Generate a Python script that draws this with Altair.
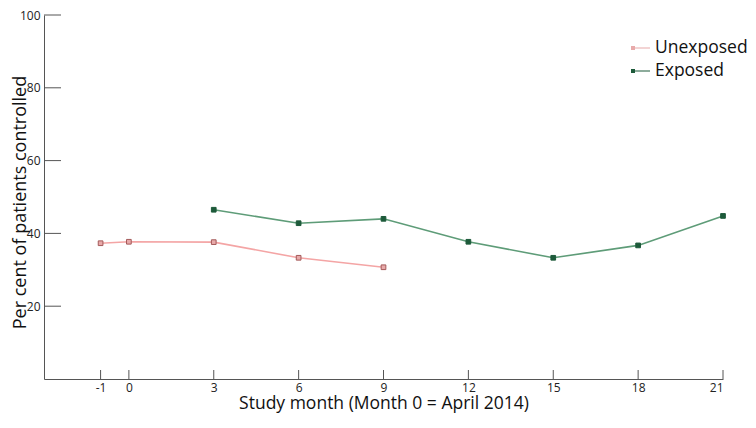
import altair as alt
import pandas as pd

unexposed_months = [-1, 0, 3, 6, 9]
unexposed_values = [37.3, 37.7, 37.6, 33.3, 30.7]
exposed_months = [3, 6, 9, 12, 15, 18, 21]
exposed_values = [46.5, 42.8, 44.0, 37.7, 33.3, 36.7, 44.8]
groups = ["Unexposed", "Exposed"]
x_ticks = [-1, 0, 3, 6, 9, 12, 15, 18, 21]
y_ticks = [20, 40, 60, 80, 100]

rows = []
for m, v in zip(unexposed_months, unexposed_values):
    rows.append({"month": m, "value": v, "group": "Unexposed"})
for m, v in zip(exposed_months, exposed_values):
    rows.append({"month": m, "value": v, "group": "Exposed"})
df = pd.DataFrame(rows)

W, H = 679, 364
FONT = "Open Sans"

xscale = alt.Scale(domain=[-3, 21], nice=False, zero=False)
yscale = alt.Scale(domain=[0, 100], nice=False)

x_axis = alt.Axis(values=x_ticks, ticks=False, grid=False, domainColor="#555",
                  labelFontSize=12, labelColor="#222", labelPadding=3, labelFont=FONT,
                  labelExpr="'' + datum.value",
                  title="Study month (Month 0 = April 2014)", titleFontSize=17.5,
                  titleFontWeight="normal", titleColor="#111", titlePadding=1, titleFont=FONT)
y_axis = alt.Axis(values=y_ticks, ticks=False, grid=False, domainColor="#555",
                  labelFontSize=12, labelColor="#222", labelPadding=4, labelFont=FONT,
                  title="Per cent of patients controlled", titleFontSize=18,
                  titleFontWeight="normal", titleColor="#111", titleFont=FONT,
                  titleX=-15, titleY=187)

line_colors = ["#f4a5a5", "#5e9c78"]
fill_colors = ["#e8aaaa", "#1d5a3a"]
stroke_colors = ["#a45a5a", "#1d5a3a"]

lines = alt.Chart(df).mark_line(strokeWidth=1.6).encode(
    x=alt.X("month:Q", scale=xscale, axis=x_axis),
    y=alt.Y("value:Q", scale=yscale, axis=y_axis),
    color=alt.Color("group:N", scale=alt.Scale(domain=groups, range=line_colors), legend=None),
    detail="group:N",
)

legend_symbol = "M-1,-0.2H-0.6V0.2H-1Z M-0.6,-0.05H0.9V0.05H-0.6Z"

points = alt.Chart(df).mark_point(shape="square", filled=True, size=22, strokeWidth=1, opacity=1).encode(
    x=alt.X("month:Q", scale=xscale),
    y=alt.Y("value:Q", scale=yscale),
    color=alt.Color("group:N", scale=alt.Scale(domain=groups, range=fill_colors),
                    legend=alt.Legend(title=None, orient="none", legendX=587, legendY=23,
                                      symbolType=legend_symbol, symbolSize=400,
                                      labelFontSize=17.5, labelFont=FONT, labelColor="#111",
                                      labelOffset=4, rowPadding=4, symbolStrokeWidth=0)),
    stroke=alt.Stroke("group:N", scale=alt.Scale(domain=groups, range=stroke_colors), legend=None),
)

x_tick_df = pd.DataFrame({"t": x_ticks})
y_tick_df = pd.DataFrame({"t": y_ticks})

xt = alt.Chart(x_tick_df).mark_rule(color="#555", strokeWidth=1).encode(
    x=alt.X("t:Q", scale=xscale), y=alt.value(H - 9), y2=alt.value(H))
yt = alt.Chart(y_tick_df).mark_rule(color="#555", strokeWidth=1).encode(
    y=alt.Y("t:Q", scale=yscale), x=alt.value(0), x2=alt.value(17))

chart = alt.layer(xt, yt, lines, points).resolve_scale(color="independent").properties(
    width=W, height=H,
    background="white",
    autosize=alt.AutoSizeParams(type="none"),
    padding={"left": 36, "top": 7, "right": 25, "bottom": 34},
).configure_view(stroke=None)

chart.save("out.html", embed_options={"renderer": "svg", "actions": False})
